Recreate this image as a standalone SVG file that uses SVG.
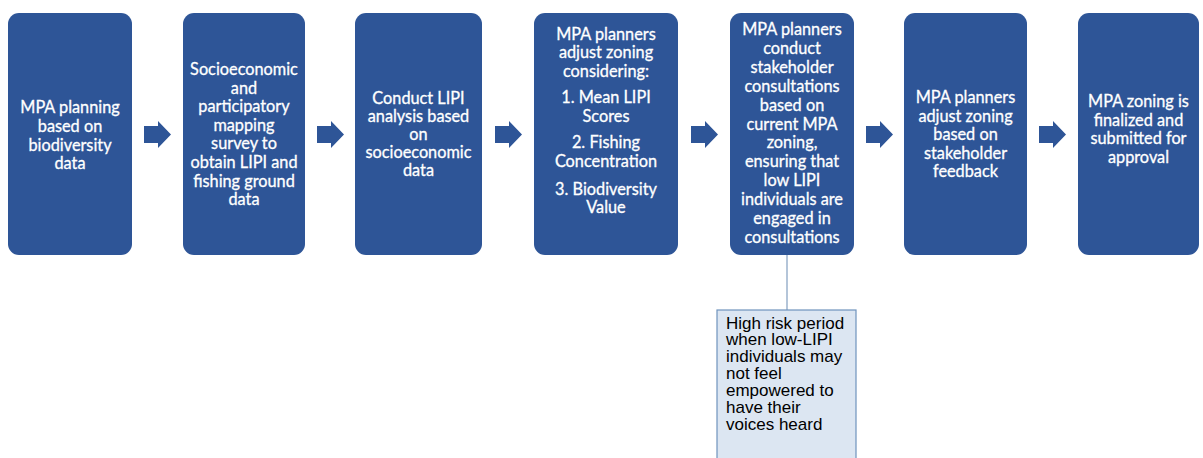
<svg xmlns="http://www.w3.org/2000/svg" width="1203" height="458" viewBox="0 0 1203 458">
<style>
.box{fill:#2e5597;}
.t{font-family:Lato,"Open Sans","Liberation Sans",sans-serif;font-size:16.3px;fill:#ffffff;stroke:#ffffff;stroke-width:0.3;text-anchor:middle;}
.arr{fill:#2e5597;}
.note{fill:#dce6f2;stroke:#6f93bd;stroke-width:1.2;}
.nt{font-family:"Liberation Sans",Arial,sans-serif;font-size:17px;fill:#000000;}
.link{stroke:#9bb2cc;stroke-width:1.5;fill:none;}
</style>
<defs>
<path id="arrow" d="M0,126 H14 V121 L27,134.5 L14,148 V143 H0 Z"/>
</defs>
<rect width="1203" height="458" fill="#ffffff"/>
<g id="connectors">
<use href="#arrow" class="arr" x="144"/>
<use href="#arrow" class="arr" x="317"/>
<use href="#arrow" class="arr" x="495"/>
<use href="#arrow" class="arr" x="691"/>
<use href="#arrow" class="arr" x="866"/>
<use href="#arrow" class="arr" x="1039"/>
<line class="link" x1="787" y1="255" x2="787" y2="310"/>
</g>
<g id="n1">
<rect class="box" x="8" y="13" width="124" height="242" rx="11"/>
<text class="t"><tspan x="70" y="113.3">MPA planning</tspan><tspan x="70" y="132">based on</tspan><tspan x="70" y="150.6">biodiversity</tspan><tspan x="70" y="169.2">data</tspan></text>
</g>
<g id="n2">
<rect class="box" x="183" y="13" width="122" height="242" rx="11"/>
<text class="t"><tspan x="244" y="75">Socioeconomic</tspan><tspan x="244" y="93.6">and</tspan><tspan x="244" y="112.2">participatory</tspan><tspan x="244" y="130.8">mapping</tspan><tspan x="244" y="149.4">survey to</tspan><tspan x="244" y="168">obtain LIPI and</tspan><tspan x="244" y="186.6">fishing ground</tspan><tspan x="244" y="205.2">data</tspan></text>
</g>
<g id="n3">
<rect class="box" x="355" y="13" width="127" height="242" rx="11"/>
<text class="t"><tspan x="418.5" y="103.5">Conduct LIPI</tspan><tspan x="418.5" y="121.6">analysis based</tspan><tspan x="418.5" y="139.8">on</tspan><tspan x="418.5" y="157.9">socioeconomic</tspan><tspan x="418.5" y="176">data</tspan></text>
</g>
<g id="n4">
<rect class="box" x="534" y="13" width="144" height="242" rx="11"/>
<text class="t"><tspan x="606" y="40">MPA planners</tspan><tspan x="606" y="58.3">adjust zoning</tspan><tspan x="606" y="76.7">considering:</tspan><tspan x="606" y="103.3">1. Mean LIPI</tspan><tspan x="606" y="121.7">Scores</tspan><tspan x="606" y="148.3">2. Fishing</tspan><tspan x="606" y="166.7">Concentration</tspan><tspan x="606" y="195">3. Biodiversity</tspan><tspan x="606" y="213.3">Value</tspan></text>
</g>
<g id="n5">
<rect class="box" x="730" y="13" width="124" height="242" rx="11"/>
<text class="t"><tspan x="792" y="35">MPA planners</tspan><tspan x="792" y="53.9">conduct</tspan><tspan x="792" y="72.8">stakeholder</tspan><tspan x="792" y="91.7">consultations</tspan><tspan x="792" y="110.6">based on</tspan><tspan x="792" y="129.5">current MPA</tspan><tspan x="792" y="148.4">zoning,</tspan><tspan x="792" y="167.3">ensuring that</tspan><tspan x="792" y="186.2">low LIPI</tspan><tspan x="792" y="205.1">individuals are</tspan><tspan x="792" y="224">engaged in</tspan><tspan x="792" y="242.9">consultations</tspan></text>
</g>
<g id="n6">
<rect class="box" x="904" y="13" width="123" height="242" rx="11"/>
<text class="t"><tspan x="965.5" y="103">MPA planners</tspan><tspan x="965.5" y="121.5">adjust zoning</tspan><tspan x="965.5" y="140">based on</tspan><tspan x="965.5" y="158.5">stakeholder</tspan><tspan x="965.5" y="177">feedback</tspan></text>
</g>
<g id="n7">
<rect class="box" x="1078" y="13" width="121" height="242" rx="11"/>
<text class="t"><tspan x="1138.5" y="107">MPA zoning is</tspan><tspan x="1138.5" y="125.5">finalized and</tspan><tspan x="1138.5" y="144">submitted for</tspan><tspan x="1138.5" y="162.5">approval</tspan></text>
</g>
<g id="note">
<rect class="note" x="717" y="310" width="139" height="160"/>
<text class="nt"><tspan x="726" y="328.5">High risk period</tspan><tspan x="726" y="345.3">when low-LIPI</tspan><tspan x="726" y="362.2">individuals may</tspan><tspan x="726" y="379">not feel</tspan><tspan x="726" y="395.9">empowered to</tspan><tspan x="726" y="412.7">have their</tspan><tspan x="726" y="429.6">voices heard</tspan></text>
</g>
</svg>
